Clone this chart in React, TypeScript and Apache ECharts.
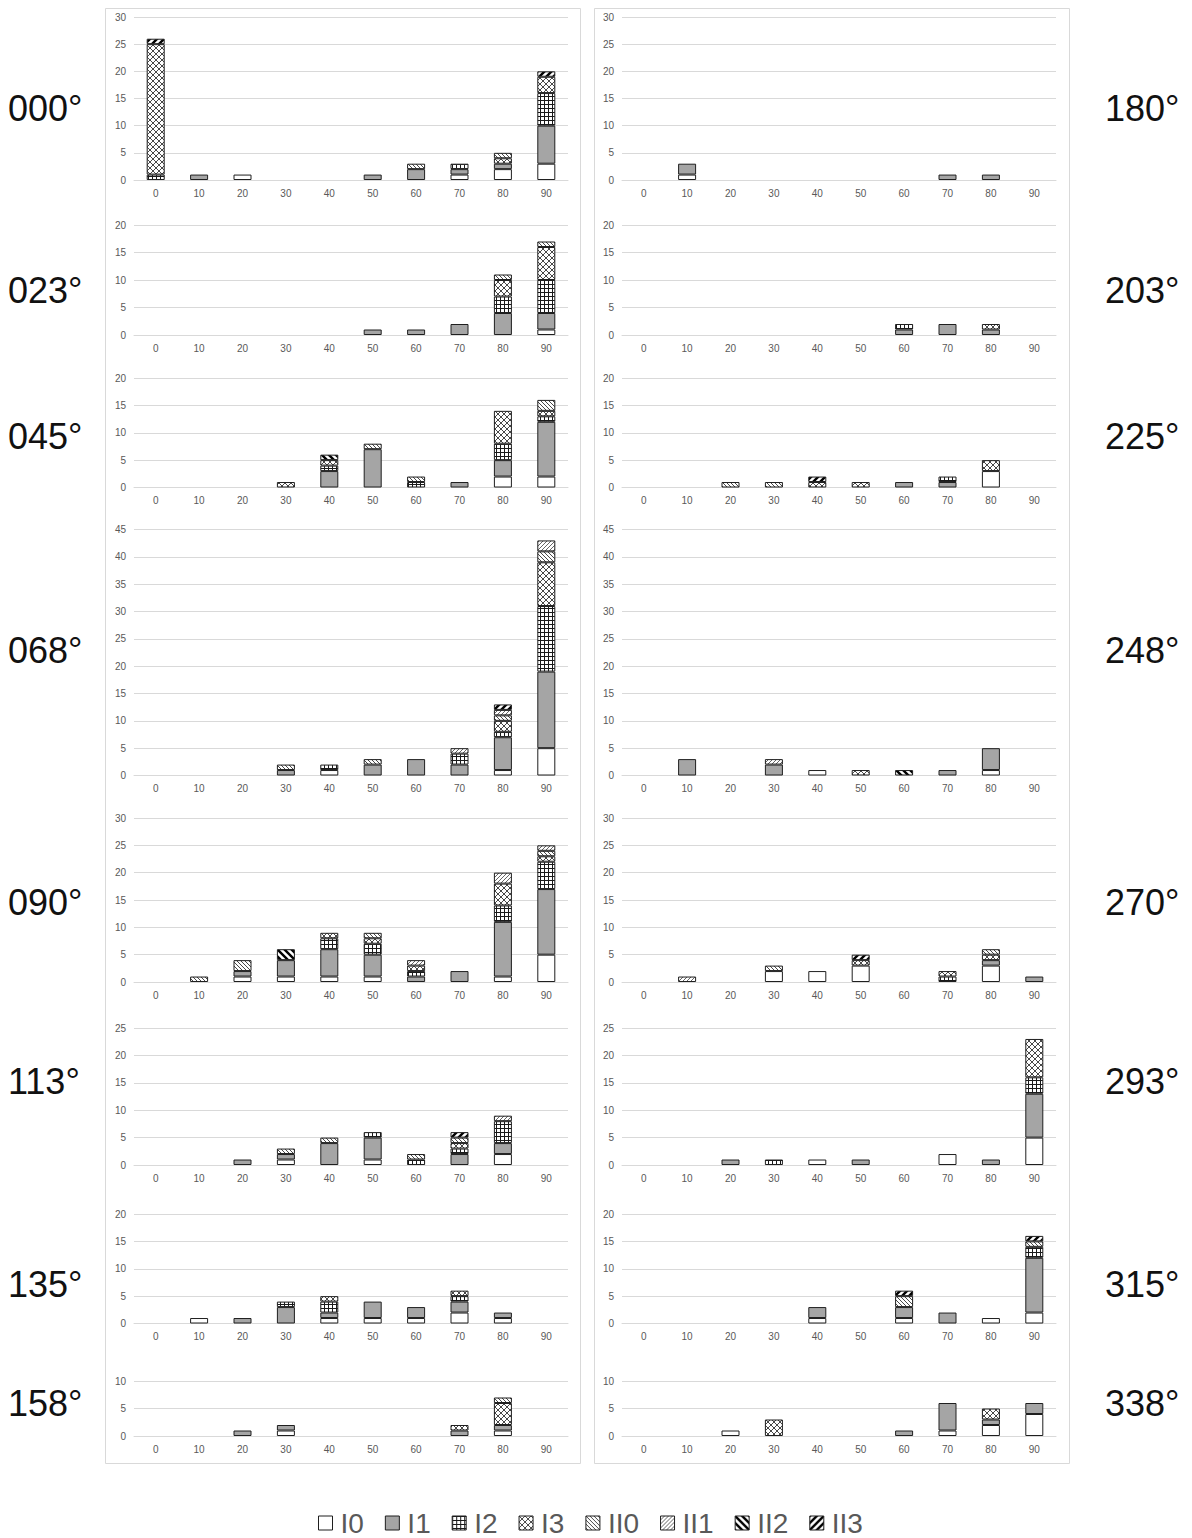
import React, { useEffect, useRef } from "react";
import * as echarts from "echarts";

// ---- data ----
const CATEGORIES = ["0", "10", "20", "30", "40", "50", "60", "70", "80", "90"];
const TYPES = ["I0", "I1", "I2", "I3", "II0", "II1", "II2", "II3"];

// each panel: rows in TYPES order, columns in CATEGORIES order
const D000 = [
  [0, 0, 1, 0, 0, 0, 0, 1, 2, 3],
  [0, 1, 0, 0, 0, 1, 2, 1, 1, 7],
  [1, 0, 0, 0, 0, 0, 0, 1, 0, 6],
  [24, 0, 0, 0, 0, 0, 0, 0, 1, 3],
  [0, 0, 0, 0, 0, 0, 1, 0, 1, 0],
  [0, 0, 0, 0, 0, 0, 0, 0, 0, 0],
  [0, 0, 0, 0, 0, 0, 0, 0, 0, 0],
  [1, 0, 0, 0, 0, 0, 0, 0, 0, 1],
];
const D023 = [
  [0, 0, 0, 0, 0, 0, 0, 0, 0, 1],
  [0, 0, 0, 0, 0, 1, 1, 2, 4, 3],
  [0, 0, 0, 0, 0, 0, 0, 0, 3, 6],
  [0, 0, 0, 0, 0, 0, 0, 0, 3, 6],
  [0, 0, 0, 0, 0, 0, 0, 0, 1, 1],
  [0, 0, 0, 0, 0, 0, 0, 0, 0, 0],
  [0, 0, 0, 0, 0, 0, 0, 0, 0, 0],
  [0, 0, 0, 0, 0, 0, 0, 0, 0, 0],
];
const D045 = [
  [0, 0, 0, 0, 0, 0, 0, 0, 2, 2],
  [0, 0, 0, 0, 3, 7, 0, 1, 3, 10],
  [0, 0, 0, 0, 1, 0, 1, 0, 3, 1],
  [0, 0, 0, 1, 1, 0, 0, 0, 6, 1],
  [0, 0, 0, 0, 0, 1, 1, 0, 0, 2],
  [0, 0, 0, 0, 0, 0, 0, 0, 0, 0],
  [0, 0, 0, 0, 1, 0, 0, 0, 0, 0],
  [0, 0, 0, 0, 0, 0, 0, 0, 0, 0],
];
const D068 = [
  [0, 0, 0, 0, 1, 0, 0, 0, 1, 5],
  [0, 0, 0, 1, 0, 2, 3, 2, 6, 14],
  [0, 0, 0, 0, 1, 0, 0, 2, 1, 12],
  [0, 0, 0, 0, 0, 0, 0, 0, 2, 8],
  [0, 0, 0, 1, 0, 1, 0, 0, 1, 2],
  [0, 0, 0, 0, 0, 0, 0, 1, 1, 2],
  [0, 0, 0, 0, 0, 0, 0, 0, 0, 0],
  [0, 0, 0, 0, 0, 0, 0, 0, 1, 0],
];
const D090 = [
  [0, 0, 1, 1, 1, 1, 0, 0, 1, 5],
  [0, 0, 1, 3, 5, 4, 1, 2, 10, 12],
  [0, 0, 0, 0, 2, 2, 1, 0, 3, 5],
  [0, 0, 0, 0, 1, 1, 1, 0, 4, 1],
  [0, 1, 2, 0, 0, 1, 0, 0, 0, 1],
  [0, 0, 0, 0, 0, 0, 1, 0, 2, 1],
  [0, 0, 0, 2, 0, 0, 0, 0, 0, 0],
  [0, 0, 0, 0, 0, 0, 0, 0, 0, 0],
];
const D113 = [
  [0, 0, 0, 1, 0, 1, 0, 0, 2, 0],
  [0, 0, 1, 1, 4, 4, 0, 2, 2, 0],
  [0, 0, 0, 0, 0, 1, 1, 1, 4, 0],
  [0, 0, 0, 0, 0, 0, 0, 1, 0, 0],
  [0, 0, 0, 1, 1, 0, 1, 1, 0, 0],
  [0, 0, 0, 0, 0, 0, 0, 0, 1, 0],
  [0, 0, 0, 0, 0, 0, 0, 0, 0, 0],
  [0, 0, 0, 0, 0, 0, 0, 1, 0, 0],
];
const D135 = [
  [0, 1, 0, 0, 1, 1, 1, 2, 1, 0],
  [0, 0, 1, 3, 1, 3, 2, 2, 1, 0],
  [0, 0, 0, 1, 2, 0, 0, 1, 0, 0],
  [0, 0, 0, 0, 1, 0, 0, 1, 0, 0],
  [0, 0, 0, 0, 0, 0, 0, 0, 0, 0],
  [0, 0, 0, 0, 0, 0, 0, 0, 0, 0],
  [0, 0, 0, 0, 0, 0, 0, 0, 0, 0],
  [0, 0, 0, 0, 0, 0, 0, 0, 0, 0],
];
const D158 = [
  [0, 0, 0, 1, 0, 0, 0, 0, 1, 0],
  [0, 0, 1, 1, 0, 0, 0, 1, 1, 0],
  [0, 0, 0, 0, 0, 0, 0, 0, 0, 0],
  [0, 0, 0, 0, 0, 0, 0, 1, 4, 0],
  [0, 0, 0, 0, 0, 0, 0, 0, 1, 0],
  [0, 0, 0, 0, 0, 0, 0, 0, 0, 0],
  [0, 0, 0, 0, 0, 0, 0, 0, 0, 0],
  [0, 0, 0, 0, 0, 0, 0, 0, 0, 0],
];
const D180 = [
  [0, 1, 0, 0, 0, 0, 0, 0, 0, 0],
  [0, 2, 0, 0, 0, 0, 0, 1, 1, 0],
  [0, 0, 0, 0, 0, 0, 0, 0, 0, 0],
  [0, 0, 0, 0, 0, 0, 0, 0, 0, 0],
  [0, 0, 0, 0, 0, 0, 0, 0, 0, 0],
  [0, 0, 0, 0, 0, 0, 0, 0, 0, 0],
  [0, 0, 0, 0, 0, 0, 0, 0, 0, 0],
  [0, 0, 0, 0, 0, 0, 0, 0, 0, 0],
];
const D203 = [
  [0, 0, 0, 0, 0, 0, 0, 0, 0, 0],
  [0, 0, 0, 0, 0, 0, 1, 2, 1, 0],
  [0, 0, 0, 0, 0, 0, 1, 0, 0, 0],
  [0, 0, 0, 0, 0, 0, 0, 0, 1, 0],
  [0, 0, 0, 0, 0, 0, 0, 0, 0, 0],
  [0, 0, 0, 0, 0, 0, 0, 0, 0, 0],
  [0, 0, 0, 0, 0, 0, 0, 0, 0, 0],
  [0, 0, 0, 0, 0, 0, 0, 0, 0, 0],
];
const D225 = [
  [0, 0, 0, 0, 0, 0, 0, 0, 3, 0],
  [0, 0, 0, 0, 0, 0, 1, 1, 0, 0],
  [0, 0, 0, 0, 0, 0, 0, 1, 0, 0],
  [0, 0, 0, 0, 1, 1, 0, 0, 2, 0],
  [0, 0, 1, 1, 0, 0, 0, 0, 0, 0],
  [0, 0, 0, 0, 0, 0, 0, 0, 0, 0],
  [0, 0, 0, 0, 0, 0, 0, 0, 0, 0],
  [0, 0, 0, 0, 1, 0, 0, 0, 0, 0],
];
const D248 = [
  [0, 0, 0, 0, 1, 0, 0, 0, 1, 0],
  [0, 3, 0, 2, 0, 0, 0, 1, 4, 0],
  [0, 0, 0, 0, 0, 0, 0, 0, 0, 0],
  [0, 0, 0, 0, 0, 1, 0, 0, 0, 0],
  [0, 0, 0, 0, 0, 0, 0, 0, 0, 0],
  [0, 0, 0, 1, 0, 0, 0, 0, 0, 0],
  [0, 0, 0, 0, 0, 0, 1, 0, 0, 0],
  [0, 0, 0, 0, 0, 0, 0, 0, 0, 0],
];
const D270 = [
  [0, 0, 0, 2, 2, 3, 0, 0, 3, 0],
  [0, 0, 0, 0, 0, 0, 0, 0, 1, 1],
  [0, 0, 0, 0, 0, 0, 0, 1, 0, 0],
  [0, 0, 0, 0, 0, 1, 0, 1, 1, 0],
  [0, 0, 0, 1, 0, 0, 0, 0, 1, 0],
  [0, 1, 0, 0, 0, 0, 0, 0, 0, 0],
  [0, 0, 0, 0, 0, 0, 0, 0, 0, 0],
  [0, 0, 0, 0, 0, 1, 0, 0, 0, 0],
];
const D293 = [
  [0, 0, 0, 0, 1, 0, 0, 2, 0, 5],
  [0, 0, 1, 0, 0, 1, 0, 0, 1, 8],
  [0, 0, 0, 1, 0, 0, 0, 0, 0, 3],
  [0, 0, 0, 0, 0, 0, 0, 0, 0, 7],
  [0, 0, 0, 0, 0, 0, 0, 0, 0, 0],
  [0, 0, 0, 0, 0, 0, 0, 0, 0, 0],
  [0, 0, 0, 0, 0, 0, 0, 0, 0, 0],
  [0, 0, 0, 0, 0, 0, 0, 0, 0, 0],
];
const D315 = [
  [0, 0, 0, 0, 1, 0, 1, 0, 1, 2],
  [0, 0, 0, 0, 2, 0, 2, 2, 0, 10],
  [0, 0, 0, 0, 0, 0, 0, 0, 0, 2],
  [0, 0, 0, 0, 0, 0, 0, 0, 0, 0],
  [0, 0, 0, 0, 0, 0, 2, 0, 0, 1],
  [0, 0, 0, 0, 0, 0, 0, 0, 0, 0],
  [0, 0, 0, 0, 0, 0, 0, 0, 0, 0],
  [0, 0, 0, 0, 0, 0, 1, 0, 0, 1],
];
const D338 = [
  [0, 0, 1, 0, 0, 0, 0, 1, 2, 4],
  [0, 0, 0, 0, 0, 0, 1, 5, 1, 2],
  [0, 0, 0, 0, 0, 0, 0, 0, 0, 0],
  [0, 0, 0, 3, 0, 0, 0, 0, 2, 0],
  [0, 0, 0, 0, 0, 0, 0, 0, 0, 0],
  [0, 0, 0, 0, 0, 0, 0, 0, 0, 0],
  [0, 0, 0, 0, 0, 0, 0, 0, 0, 0],
  [0, 0, 0, 0, 0, 0, 0, 0, 0, 0],
];

const LEFT_LABELS = ["000°", "023°", "045°", "068°", "090°", "113°", "135°", "158°"];
const RIGHT_LABELS = ["180°", "203°", "225°", "248°", "270°", "293°", "315°", "338°"];
const LEFT_DATA = [D000, D023, D045, D068, D090, D113, D135, D158];
const RIGHT_DATA = [D180, D203, D225, D248, D270, D293, D315, D338];
const ROW_MAX = [30, 20, 20, 45, 30, 25, 20, 10];

// ---- layout ----
const ROW_TOP = [17, 225, 378, 529.5, 818, 1028, 1214, 1381];
const ROW_HEIGHT = [163, 110, 109.5, 246, 164, 137, 109.5, 55];
const ROW_LABEL_Y = [108, 290, 436, 650, 902, 1081, 1284, 1403];
const COL_LEFT = [134, 622];
const GRID_WIDTH = 434;

function tile(size: number, body: string) {
  const svg = `<svg xmlns="http://www.w3.org/2000/svg" width="${size}" height="${size}"><rect width="${size}" height="${size}" fill="#ffffff"/>${body}</svg>`;
  return {
    image: "data:image/svg+xml;base64," + btoa(svg),
    repeat: "repeat",
    imageWidth: size,
    imageHeight: size,
  };
}

function makeFills(): any[] {
  return [
    "#ffffff",
    "#a5a5a5",
    tile(4, `<path d="M0,0.5H4M0.5,0V4" stroke="#1a1a1a" stroke-width="1" fill="none"/>`),
    tile(6, `<path d="M0,0L6,6M6,0L0,6" stroke="#333333" stroke-width="0.9" fill="none"/>`),
    tile(4, `<path d="M0,0L4,4M-1,3L1,5M3,-1L5,1" stroke="#333333" stroke-width="0.9" fill="none"/>`),
    tile(4, `<path d="M0,4L4,0M-1,1L1,-1M3,5L5,3" stroke="#555555" stroke-width="0.9" fill="none"/>`),
    tile(7, `<path d="M0,0L7,7M-2,5L2,9M5,-2L9,2" stroke="#000000" stroke-width="2.4" fill="none"/>`),
    tile(7, `<path d="M0,7L7,0M-2,2L2,-2M5,9L9,5" stroke="#000000" stroke-width="2.4" fill="none"/>`),
  ];
}

export default function App() {
  const ref = useRef<HTMLDivElement>(null);

  useEffect(() => {
    if (!ref.current) return;
    const chart = echarts.init(ref.current, null, { renderer: "svg" });
    const fills = makeFills();
    const grids: any[] = [];
    const xAxes: any[] = [];
    const yAxes: any[] = [];
    const series: any[] = [];
    const graphics: any[] = [
      {
        type: "rect",
        shape: { x: 105.5, y: 8.5, width: 475, height: 1455 },
        style: { fill: "none", stroke: "#d9d9d9", lineWidth: 1 },
        silent: true,
      },
      {
        type: "rect",
        shape: { x: 594.5, y: 8.5, width: 475, height: 1455 },
        style: { fill: "none", stroke: "#d9d9d9", lineWidth: 1 },
        silent: true,
      },
    ];

    const panels: any[] = [];
    for (let r = 0; r < 8; r++) {
      panels.push({ col: 0, row: r, data: LEFT_DATA[r], label: LEFT_LABELS[r] });
      panels.push({ col: 1, row: r, data: RIGHT_DATA[r], label: RIGHT_LABELS[r] });
    }

    panels.forEach((p, i) => {
      grids.push({
        left: COL_LEFT[p.col],
        top: ROW_TOP[p.row],
        width: GRID_WIDTH,
        height: ROW_HEIGHT[p.row],
        containLabel: false,
      });
      xAxes.push({
        type: "category",
        gridIndex: i,
        data: CATEGORIES,
        axisLine: { show: true, lineStyle: { color: "#d9d9d9", width: 1 } },
        axisTick: { show: false },
        axisLabel: {
          color: "#595959",
          fontSize: 10,
          fontFamily: "Liberation Sans, Arial, sans-serif",
          margin: 8,
        },
      });
      yAxes.push({
        type: "value",
        gridIndex: i,
        min: 0,
        max: ROW_MAX[p.row],
        interval: 5,
        axisLine: { show: false },
        axisTick: { show: false },
        splitLine: { lineStyle: { color: "#d9d9d9", width: 1 } },
        axisLabel: {
          color: "#595959",
          fontSize: 10,
          fontFamily: "Liberation Sans, Arial, sans-serif",
          margin: 8,
        },
      });
      TYPES.forEach((t, k) => {
        series.push({
          type: "bar",
          name: t,
          stack: "s" + i,
          xAxisIndex: i,
          yAxisIndex: i,
          barWidth: 18,
          data: p.data[k].map((v: number) => (v === 0 ? "-" : v)),
          itemStyle: { color: fills[k], borderColor: "#1f1f1f", borderWidth: 1 },
          emphasis: { disabled: true },
        });
      });
      graphics.push({
        type: "text",
        x: p.col === 0 ? 8 : 1105,
        y: ROW_LABEL_Y[p.row],
        silent: true,
        style: {
          text: p.label,
          fontSize: 36,
          fontFamily: "Liberation Sans, Arial, sans-serif",
          fill: "#111111",
          verticalAlign: "middle",
          align: "left",
        },
      });
    });

    chart.setOption({
      animation: false,
      backgroundColor: "#ffffff",
      grid: grids,
      xAxis: xAxes,
      yAxis: yAxes,
      series,
      graphic: graphics,
      legend: {
        data: TYPES,
        left: 318,
        top: 1509,
        padding: 0,
        icon: "rect",
        itemWidth: 14,
        itemHeight: 14,
        itemGap: 21,
        selectedMode: false,
        itemStyle: { borderColor: "#1f1f1f", borderWidth: 1 },
        textStyle: {
          fontSize: 28,
          lineHeight: 26,
          padding: [0, 0, 0, 3],
          color: "#595959",
          fontFamily: "Liberation Sans, Arial, sans-serif",
        },
      },
    });
    return () => chart.dispose();
  }, []);

  return (
    <div
      ref={ref}
      style={{ position: "absolute", left: 0, top: 0, width: 1192, height: 1538 }}
    />
  );
}
